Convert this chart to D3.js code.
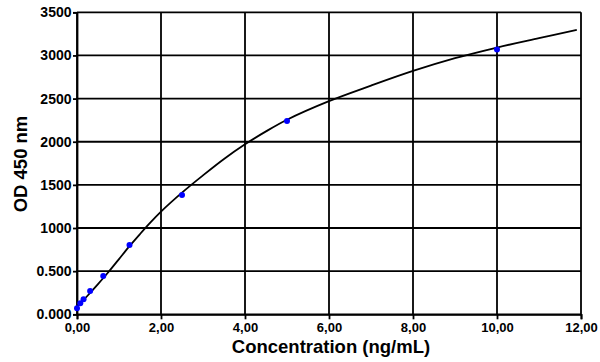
<!DOCTYPE html>
<html>
<head>
<meta charset="utf-8">
<script src="https://cdn.jsdelivr.net/npm/d3@7"></script>
<style>
  body { margin: 0; background: #fff; }
  svg text { font-family: "Liberation Sans", Arial, sans-serif; font-weight: bold; fill: #000; }
</style>
</head>
<body>
<div id="main"></div>
<script>
// standard concentrations and measured OD
let concentrations = [0, 0.078, 0.156, 0.3125, 0.625, 1.25, 2.5, 5, 10];
let odValues = [70, 128, 174, 270, 444, 804, 1384, 2239, 3070];

// fitted curve
let curveX = [0, 0.25, 0.5, 0.75, 1, 1.25, 1.5, 1.75, 2, 2.5, 3, 3.5, 4, 4.5, 5, 6, 7, 8, 9, 10, 11, 11.9];
let curveY = [85, 215, 350, 490, 640, 790, 930, 1065, 1190, 1410, 1610, 1800, 1970, 2120, 2255, 2470, 2650, 2820, 2968, 3092, 3200, 3295];

let xTicks = [0, 2, 4, 6, 8, 10, 12];
let xTickLabels = ["0,00", "2,00", "4,00", "6,00", "8,00", "10,00", "12,00"];
let yTicks = [0, 500, 1000, 1500, 2000, 2500, 3000, 3500];
let yTickLabels = ["0.000", "0.500", "1000", "1500", "2000", "2500", "3000", "3500"];

let width = 600, height = 362;
let margin = { top: 12.3, right: 19, bottom: 47.7, left: 77 };

let svg = d3.select('#main')
  .append('svg')
  .attr('width', width)
  .attr('height', height);

let x = d3.scaleLinear()
  .domain([0, 12])
  .range([margin.left, width - margin.right]);

let y = d3.scaleLinear()
  .domain([0, 3500])
  .range([height - margin.bottom, margin.top]);

// grid
let grid = svg.append('g').attr('class', 'grid')
  .attr('stroke', '#000')
  .attr('stroke-width', 1.8);

grid.selectAll('line.h')
  .data(yTicks)
  .enter().append('line')
  .attr('class', 'h')
  .attr('x1', x(0)).attr('x2', x(12))
  .attr('y1', d => y(d)).attr('y2', d => y(d));

grid.selectAll('line.v')
  .data(xTicks)
  .enter().append('line')
  .attr('class', 'v')
  .attr('y1', y(0)).attr('y2', y(3500))
  .attr('x1', d => x(d)).attr('x2', d => x(d));

// axes
let yAxis = svg.append('g')
  .attr('transform', 'translate(' + x(0) + ',0)')
  .call(d3.axisLeft(y)
    .tickValues(yTicks)
    .tickSize(4)
    .tickPadding(1.5)
    .tickFormat((d, i) => yTickLabels[i]));

let xAxis = svg.append('g')
  .attr('transform', 'translate(0,' + y(0) + ')')
  .call(d3.axisBottom(x)
    .tickValues(xTicks)
    .tickSize(5)
    .tickPadding(3)
    .tickFormat((d, i) => xTickLabels[i]));

[xAxis, yAxis].forEach(function(a) {
  a.select('.domain').attr('stroke-width', 1.8).attr('stroke', '#000');
  a.selectAll('.tick line').attr('stroke-width', 1.8).attr('stroke', '#000');
  a.selectAll('.tick text')
    .style('font-family', '"Liberation Sans", Arial, sans-serif')
    .style('font-weight', 'bold')
    .attr('fill', '#000');
});
yAxis.selectAll('.tick text').style('font-size', '14px');
xAxis.selectAll('.tick text').style('font-size', '13px');

// fitted curve
let line = d3.line()
  .x(d => x(d[0]))
  .y(d => y(d[1]))
  .curve(d3.curveCatmullRom.alpha(0.5));

svg.append('path')
  .datum(curveX.map((d, i) => [d, curveY[i]]))
  .attr('fill', 'none')
  .attr('stroke', '#000')
  .attr('stroke-width', 1.8)
  .attr('d', line);

// standards
svg.selectAll('circle')
  .data(concentrations)
  .enter().append('circle')
  .attr('cx', d => x(d))
  .attr('cy', (d, i) => y(odValues[i]))
  .attr('r', 3)
  .attr('fill', '#0000ff');

// axis titles
svg.append('text')
  .attr('x', 331)
  .attr('y', 353)
  .attr('text-anchor', 'middle')
  .style('font-size', '18.5px')
  .text('Concentration (ng/mL)');

svg.append('text')
  .attr('transform', 'translate(27,164) rotate(-90)')
  .attr('text-anchor', 'middle')
  .style('font-size', '18.5px')
  .text('OD 450 nm');
</script>
</body>
</html>
